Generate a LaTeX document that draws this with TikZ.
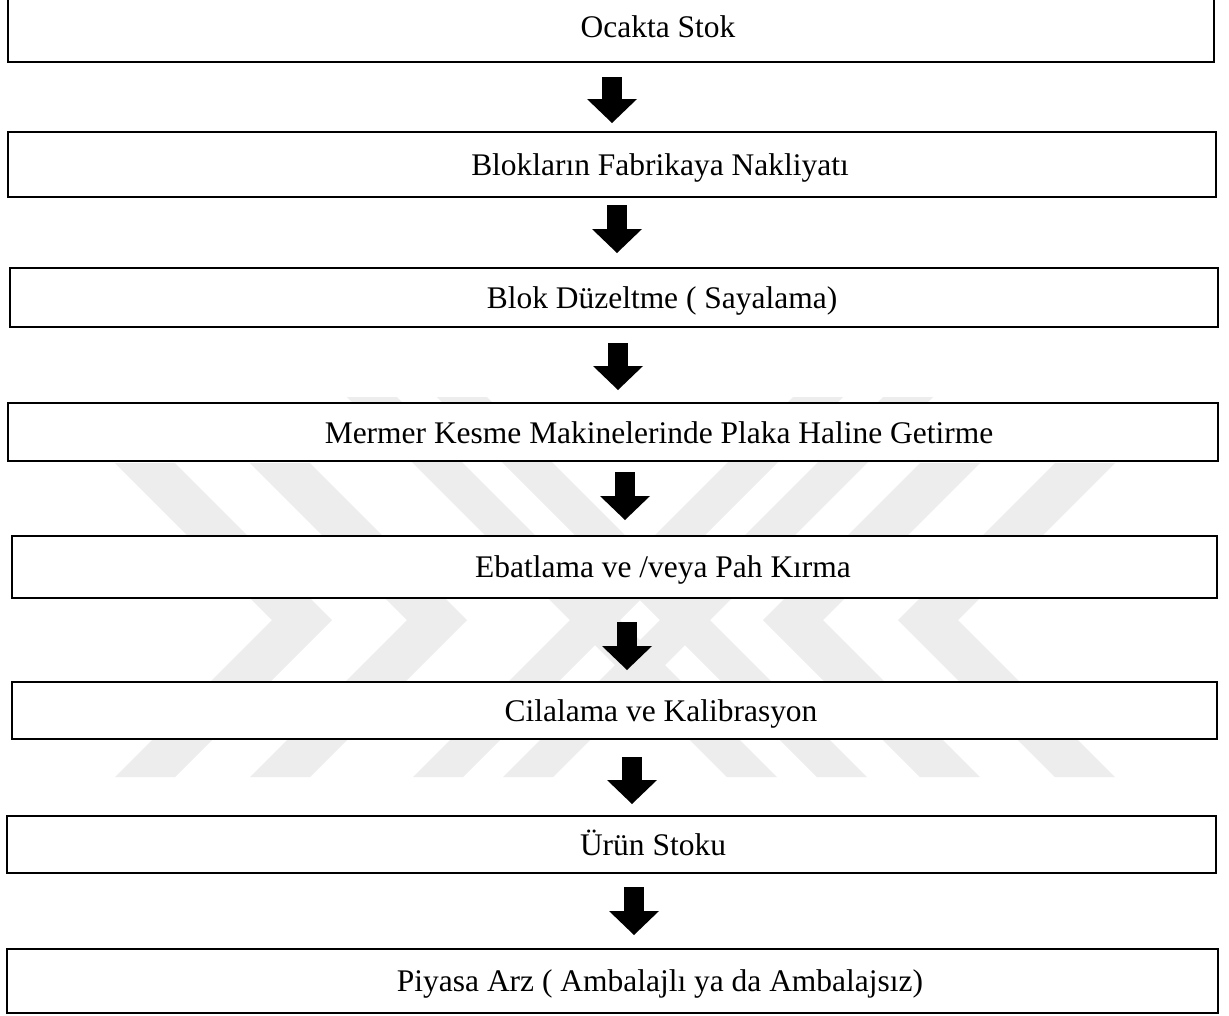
\documentclass[tikz,border=0pt]{standalone}
\usepackage{fontspec}
\setmainfont{Liberation Serif}
\usetikzlibrary{arrows.meta}
\begin{document}
\begin{tikzpicture}[x=0.75pt,y=-0.75pt,
  box/.style 2 args={draw=black, fill=white, line width=1.5pt, rectangle, inner sep=0pt,
    minimum width=#1*0.75pt, minimum height=#2*0.75pt},
  lbl/.style={anchor=base, inner sep=0pt, font=\fontsize{23.6}{28}\selectfont, text=black},
  flow/.style={line width=15pt, -{Triangle[length=18pt, width=37.5pt, line width=0pt]}},
  wm/.style={fill=black!7, draw=none}]
\fill[white] (0,0) rectangle (1229,1015);
\useasboundingbox (0,0) rectangle (1229,1015);

% faint watermark (behind the boxes)
\foreach \x in {115,250}{
  \fill[wm] (\x,463) -- (\x+60,463) -- (\x+217,620) -- (\x+60,777) -- (\x,777) -- (\x+157,620) -- cycle;}
\foreach \x in {1115,980}{
  \fill[wm] (\x,463) -- (\x-60,463) -- (\x-217,620) -- (\x-60,777) -- (\x,777) -- (\x-157,620) -- cycle;}
\fill[wm] (347,397) -- (397,397) -- (777,777) -- (727,777) -- cycle;
\fill[wm] (437,397) -- (487,397) -- (867,777) -- (817,777) -- cycle;
\fill[wm] (843,397) -- (793,397) -- (413,777) -- (463,777) -- cycle;
\fill[wm] (933,397) -- (883,397) -- (503,777) -- (553,777) -- cycle;

% boxes
\node[box={1206.5}{67}]   (b1) at (610.75,28.5) {};
\node[box={1208.5}{65}]   (b2) at (611.75,164.5) {};
\node[box={1208}{59}]     (b3) at (614,297.5) {};
\node[box={1209.7}{58}]   (b4) at (613.15,432) {};
\node[box={1205.3}{62}]   (b5) at (614.35,567) {};
\node[box={1205.3}{57}]   (b6) at (614.35,710.5) {};
\node[box={1208.7}{57}]   (b7) at (611.65,844.5) {};
\node[box={1210.7}{64}]   (b8) at (612.65,981) {};

% labels
\node[lbl] (t1) at (658,37)  {Ocakta Stok};
\node[lbl] (t2) at (660,175) {Blokların Fabrikaya Nakliyatı};
\node[lbl] (t3) at (662,308) {Blok Düzeltme ( Sayalama)};
\node[lbl] (t4) at (659,443) {Mermer Kesme Makinelerinde Plaka Haline Getirme};
\node[lbl] (t5) at (663,577) {Ebatlama ve /veya Pah Kırma};
\node[lbl] (t6) at (661,721) {Cilalama ve Kalibrasyon};
\node[lbl] (t7) at (653,855) {Ürün Stoku};
\node[lbl] (t8) at (660,991) {Piyasa Arz ( Ambalajlı ya da Ambalajsız)};

% arrows
\coordinate (a1s) at (612,77);  \coordinate (a1e) at (612,123);
\coordinate (a2s) at (617,205); \coordinate (a2e) at (617,253);
\coordinate (a3s) at (618,343); \coordinate (a3e) at (618,390);
\coordinate (a4s) at (625,472); \coordinate (a4e) at (625,520);
\coordinate (a5s) at (627,622); \coordinate (a5e) at (627,670);
\coordinate (a6s) at (632,757); \coordinate (a6e) at (632,804);
\coordinate (a7s) at (634,887); \coordinate (a7e) at (634,935);
\foreach \i in {1,...,7}{\draw[flow] (a\i s) -- (a\i e);}
\end{tikzpicture}
\end{document}
